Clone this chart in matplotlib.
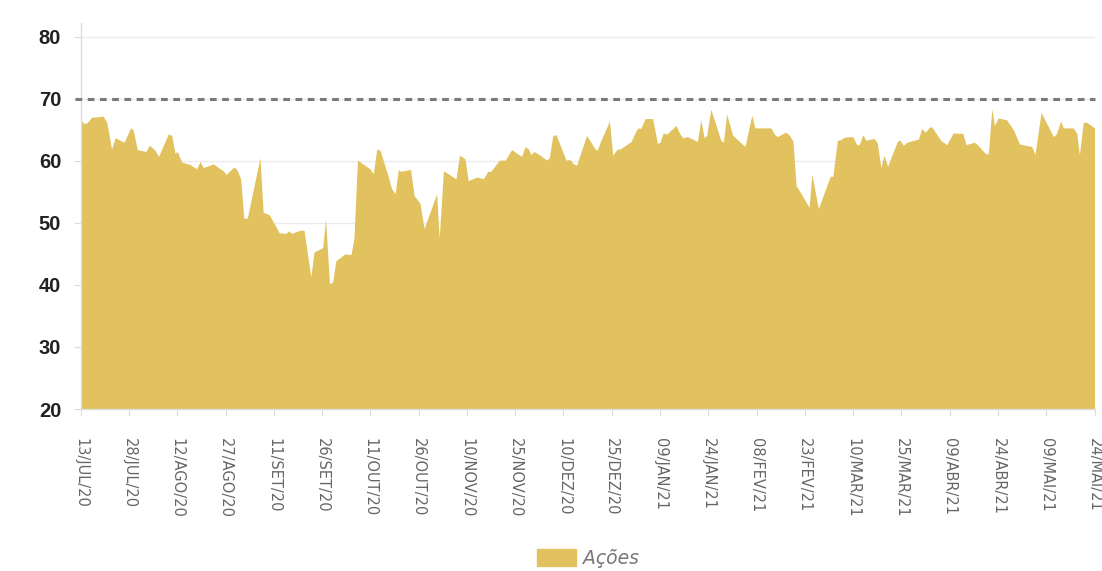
import matplotlib
matplotlib.use("Agg")
import matplotlib.pyplot as plt
import matplotlib.patches as mpatches
import numpy as np

# Day offsets from 13/JUL/20 and the share values (Ações)
day_offsets = [0, 1.0, 1.9, 3.4, 7.0, 8.1, 9.6, 10.7, 13.5, 15.5, 16.3, 17.6, 20.3, 21.3, 23.1, 24.2,
               27.2, 28.3, 29.3, 30.0, 31.4, 34.0, 36.0, 37.1, 38.1, 41.2, 42.8, 44.3, 45.2, 47.6, 48.5,
               49.7, 50.7, 51.8, 55.7, 56.7, 58.6, 61.7, 63.8, 64.5, 65.6, 68.1, 69.4, 71.5, 72.5, 75.2,
               76.1, 77.3, 78.3, 79.3, 82.1, 84.0, 84.9, 86.0, 89.9, 90.9, 92.0, 93.0, 95.6, 96.6, 97.7,
               98.7, 99.4, 102.5, 103.6, 105.4, 106.7, 110.6, 111.4, 112.7, 116.6, 117.7, 119.4, 120.4,
               123.1, 125.1, 126.5, 127.4, 130.1, 131.9, 133.9, 137.0, 138.1, 139.1, 139.9, 140.9, 142.7,
               144.8, 145.6, 146.7, 147.7, 150.8, 152.0, 153.1, 154.1, 157.2, 159.8, 160.5, 161.4, 164.3,
               165.3, 166.7, 167.6, 171.0, 172.6, 173.3, 174.0, 175.4, 177.7, 179.2, 180.0, 181.0, 182.1,
               185.0, 186.0, 187.1, 188.5, 191.6, 192.7, 193.7, 194.5, 195.8, 198.9, 199.7, 200.7, 202.6,
               206.4, 208.5, 209.5, 214.4, 215.7, 216.5, 218.9, 219.9, 221.3, 222.3, 223.5, 226.3, 227.2,
               229.2, 232.9, 233.7, 235.1, 236.2, 237.2, 239.9, 241.1, 241.9, 243.0, 244.0, 246.5, 247.5,
               248.6, 249.6, 250.7, 253.8, 254.6, 255.6, 256.7, 260.3, 261.3, 262.4, 263.7, 264.4, 267.2,
               269.1, 271.1, 274.1, 275.1, 277.6, 278.6, 281.0, 282.0, 283.1, 283.9, 285.1, 287.7, 289.8,
               291.7, 295.5, 296.5, 298.4, 302.2, 303.1, 304.5, 305.3, 308.4, 309.5, 310.3, 311.5, 312.6,
               315.0]
acoes = [66.6, 66.0, 66.1, 67.0, 67.2, 66.2, 61.9, 63.7, 63.0, 65.3, 65.0, 61.8, 61.5, 62.5, 61.7, 60.7,
         64.3, 64.1, 61.2, 61.5, 59.8, 59.4, 58.7, 59.9, 58.9, 59.5, 58.9, 58.4, 57.8, 59.0, 58.6,
         57.1, 50.7, 50.8, 60.5, 51.7, 51.3, 48.4, 48.3, 48.7, 48.3, 48.8, 48.8, 41.3, 45.3, 46.0,
         50.6, 40.2, 40.5, 43.9, 45.0, 44.9, 47.5, 60.1, 58.7, 57.9, 61.9, 61.7, 57.4, 55.5, 54.7,
         58.6, 58.3, 58.6, 54.4, 53.2, 49.1, 54.7, 47.5, 58.4, 57.1, 60.9, 60.3, 56.8,
         57.4, 57.1, 58.3, 58.3, 60.1, 60.1, 61.8, 60.7, 62.3, 61.9, 61.0, 61.5, 60.9,
         60.1, 60.5, 64.1, 64.2, 60.1, 60.2, 59.5, 59.3, 64.1, 61.9, 61.7, 63.0, 66.4,
         60.9, 61.9, 61.9, 63.1, 64.9, 65.3, 65.2, 66.8, 66.8, 62.8, 63.0, 64.5, 64.3,
         65.7, 64.5, 63.7, 63.9, 63.1, 66.6, 63.7, 64.1, 68.3, 63.3, 63.0, 67.5, 64.1,
         62.3, 67.3, 65.3, 65.3, 64.2, 63.9, 64.6, 64.3, 63.2, 56.0, 55.0, 52.5, 57.8,
         52.3, 57.5, 57.5, 63.3, 63.4, 63.8, 63.9, 62.6, 62.6, 64.2, 63.3, 63.6, 62.9,
         58.9, 60.9, 59.1, 63.2, 63.3, 62.5, 63.0, 63.5, 65.2, 64.6, 65.4, 65.5, 63.3,
         62.6, 64.5, 64.4, 62.6, 63.0, 62.6, 61.2, 61.1, 68.4, 65.7, 66.9, 66.6, 65.0,
         62.7, 62.3, 61.0, 67.8, 63.9, 64.3, 66.4, 65.3, 65.3, 64.4, 60.9, 66.2, 66.2,
         65.3]

tick_days = list(range(0, 316, 15))
tick_labels = ["13/JUL/20", "28/JUL/20", "12/AGO/20", "27/AGO/20", "11/SET/20", "26/SET/20",
               "11/OUT/20", "26/OUT/20", "10/NOV/20", "25/NOV/20", "10/DEZ/20", "25/DEZ/20",
               "09/JAN/21", "24/JAN/21", "08/FEV/21", "23/FEV/21", "10/MAR/21", "25/MAR/21",
               "09/ABR/21", "24/ABR/21", "09/MAI/21", "24/MAI/21"]
y_ticks = [20, 30, 40, 50, 60, 70, 80]
reference_level = 70
series_name = "Ações"

GOLD = "#E1C25E"
cond = ["Liberation Sans Narrow", "DejaVu Sans Condensed", "DejaVu Sans"]

fig = plt.figure(figsize=(11.02, 5.71), dpi=100)
ax = fig.add_axes([0.0732, 0.2837, 0.9200, 0.676])

ax.fill_between(day_offsets, acoes, 0, color=GOLD, linewidth=0, zorder=2)
ax.axhline(reference_level, color="#7A7A7A", linestyle=(0, (2.2, 1.8)), linewidth=2.2, zorder=3,
           xmin=-0.006, clip_on=False)

ax.set_xlim(0, 315)
ax.set_ylim(20, 82.2)
ax.set_yticks(y_ticks)
ax.set_yticklabels([str(v) for v in y_ticks], fontsize=14.5, fontweight="bold", color="#222222",
                   family=["Liberation Sans", "DejaVu Sans"])
ax.set_xticks(tick_days)
ax.set_xticklabels(tick_labels, rotation=270, fontsize=10.5, color="#666666", family=cond,
                   va="top", ha="center")

ax.grid(axis="y", color="#EBEBEB", linewidth=1.0, zorder=1)
ax.set_axisbelow(True)
for s in ["top", "right"]:
    ax.spines[s].set_visible(False)
ax.spines["left"].set_color("#DDDDDD")
ax.spines["bottom"].set_color("#DDDDDD")
ax.spines["left"].set_linewidth(1.0)
ax.spines["bottom"].set_linewidth(1.0)
ax.spines["left"].set_bounds(20, 82.2)
ax.tick_params(axis="y", length=5, color="#DDDDDD", pad=9)
ax.tick_params(axis="x", length=5, color="#DDDDDD", pad=16)

handle = mpatches.Patch(color=GOLD, label=series_name)
leg = fig.legend(handles=[handle], loc="center", bbox_to_anchor=(0.5336, 0.0215), frameon=False,
                 prop={"family": ["Liberation Sans Narrow", "DejaVu Sans"], "style": "italic", "size": 13.5},
                 handlelength=2.1, handleheight=1.0, handletextpad=0.35)
for t in leg.get_texts():
    t.set_color("#777777")

fig.savefig("out.png", dpi=100, facecolor="white")
